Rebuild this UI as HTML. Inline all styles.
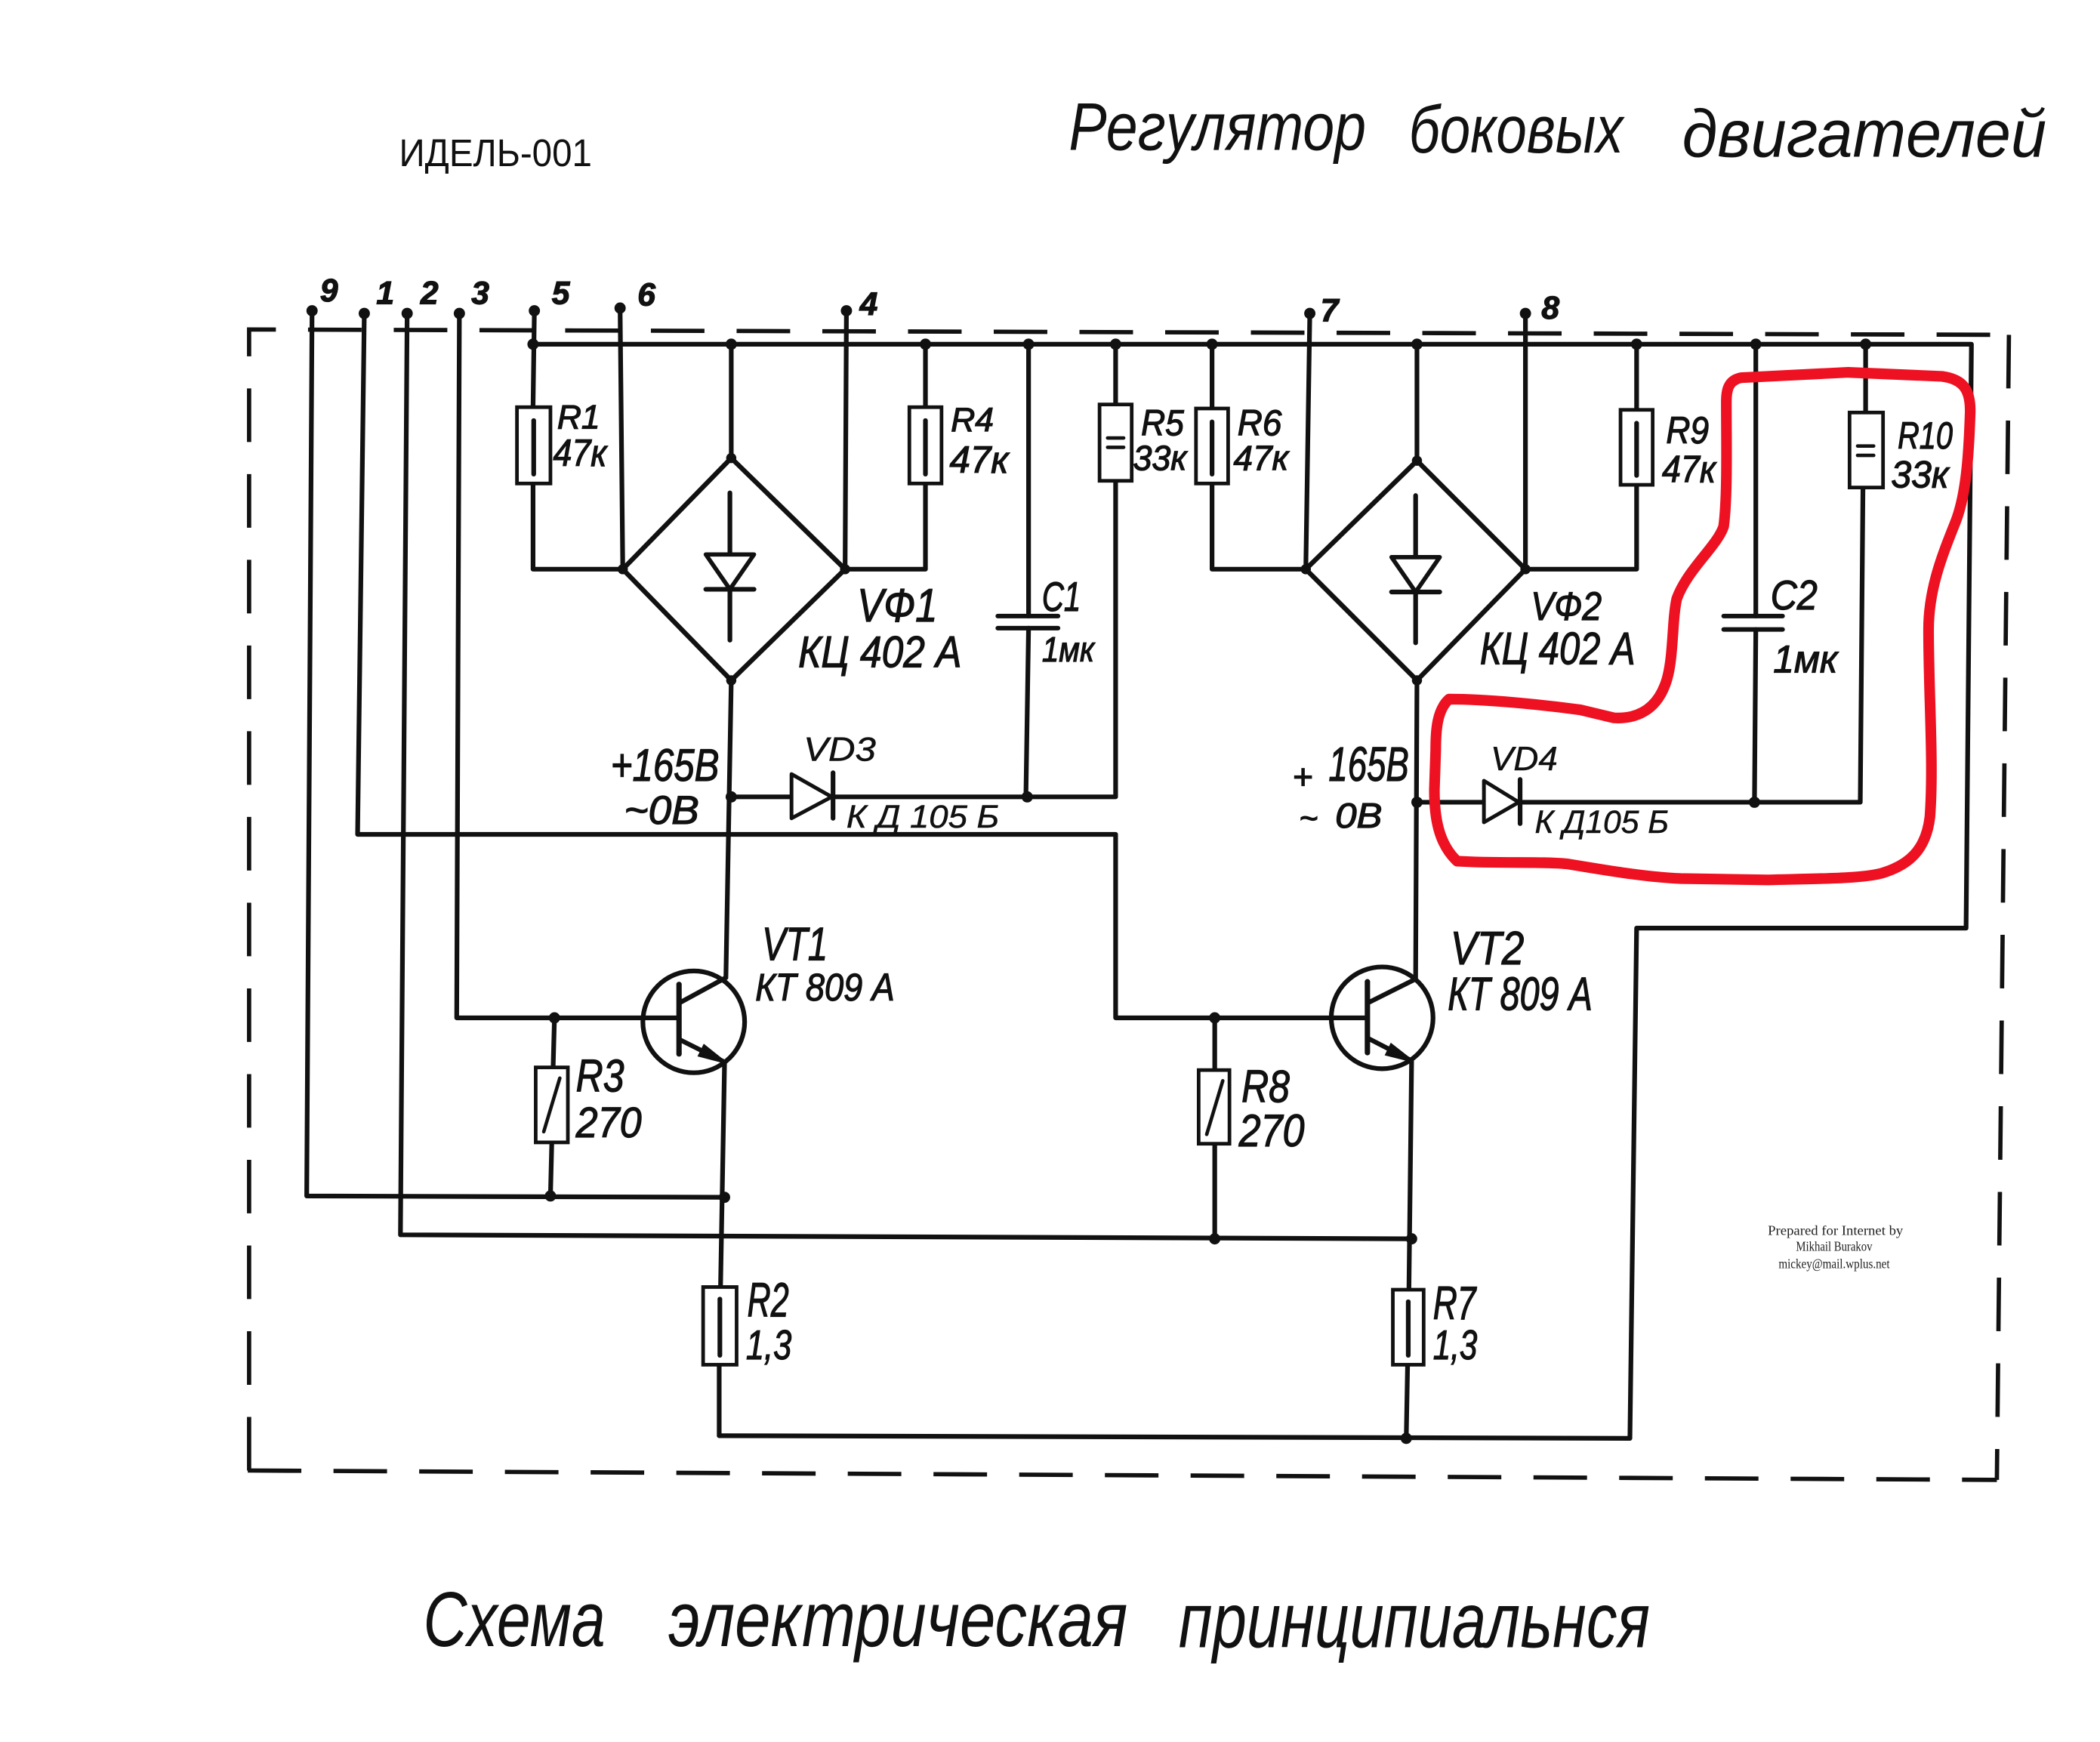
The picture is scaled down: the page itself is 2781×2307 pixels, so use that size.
<!DOCTYPE html>
<html><head><meta charset="utf-8"><style>
html,body{margin:0;padding:0;background:#fff;}
svg{display:block;}
.w{fill:none;stroke:#111;stroke-width:3.5;stroke-linecap:round;stroke-linejoin:round;}
.r{fill:#fff;stroke:#111;stroke-width:2.7;}
.d{fill:none;stroke:#111;stroke-width:3.2;stroke-dasharray:40 24;}
.t{font-family:"Liberation Sans","DejaVu Sans",sans-serif;font-style:italic;fill:#111;}
.l{font-family:"Liberation Sans","DejaVu Sans",sans-serif;font-style:italic;fill:#111;stroke:#111;stroke-width:0.7;}
</style></head><body>
<svg width="2781" height="2307" viewBox="0 0 1568 1300.7" xmlns="http://www.w3.org/2000/svg">
<rect width="1568" height="1301" fill="#fff"/>

<!-- dashed border -->
<path class="d" d="M186,1098 L186,246 L1500,250"/>
<path class="d" d="M1500,250 L1491,1105"/>
<path class="d" d="M185,1098 L1491,1105"/>

<!-- headings -->
<text x="298" y="124" font-family="Liberation Sans, DejaVu Sans, sans-serif" font-size="29" fill="#111" textLength="144" lengthAdjust="spacingAndGlyphs">ИДЕЛЬ-001</text>
<text class="t" x="798" y="112" font-size="50" textLength="222" lengthAdjust="spacingAndGlyphs">Регулятор</text>
<text class="t" x="1052" y="114" font-size="50" textLength="160" lengthAdjust="spacingAndGlyphs">боковых</text>
<text class="t" x="1256" y="117" font-size="50" textLength="272" lengthAdjust="spacingAndGlyphs">двигателей</text>
<text class="t" x="316" y="1229" font-size="58" textLength="136" lengthAdjust="spacingAndGlyphs">Схема</text>
<text class="t" x="499" y="1229" font-size="58" textLength="343" lengthAdjust="spacingAndGlyphs">электрическая</text>
<text class="t" x="880" y="1230" font-size="58" textLength="352" lengthAdjust="spacingAndGlyphs">принципиальнся</text>

<!-- terminal labels -->
<g class="l" font-size="24" font-weight="bold">
<text x="239" y="225">9</text>
<text x="281" y="227">1</text>
<text x="314" y="227">2</text>
<text x="352" y="227">3</text>
<text x="412" y="227">5</text>
<text x="476" y="228">6</text>
<text x="642" y="235">4</text>
<text x="986" y="240">7</text>
<text x="1151" y="238">8</text>
</g>

<!-- wires -->
<path class="w" d="M398,257 L1472,257 L1468,693 L1222,693 L1217,1074 L537,1072"/>
<path class="w" d="M233,232 L229,893 L541,894"/>
<path class="w" d="M272,234 L267,623 L833,623 L833,760 L995,760"/>
<path class="w" d="M304,234 L299,922 L1054,925"/>
<path class="w" d="M343,234 L341,760 L479,760"/>
<path class="w" d="M399,232 L398,304"/>
<path class="w" d="M463,230 L465,425"/>
<path class="w" d="M632,232 L631,425"/>
<path class="w" d="M978,234 L975,425"/>
<path class="w" d="M1139,234 L1139,425"/>

<!-- R1 -->
<path class="w" d="M398,361 L398,425 L465,425"/>
<rect class="r" x="386" y="304" width="25" height="57"/>
<path class="w" d="M398.5,314 L398.5,354"/>
<!-- R4 -->
<path class="w" d="M691,257 L691,304 M691,361 L691,425 L631,425"/>
<rect class="r" x="679" y="304" width="24" height="57"/>
<path class="w" d="M691,314 L691,354"/>

<!-- bridge 1 -->
<path class="w" d="M546,257 L546,342 M546,508 L542,730 L507,749"/>
<polygon class="w" points="546,342 631,425 546,508 465,425" style="stroke-width:3.6"/>
<path class="w" d="M545,368 L545,478 M527,440 L563,440"/>
<polygon points="527,414 563,414 545,440" fill="#fff" stroke="#111" stroke-width="3.2" stroke-linejoin="round"/>

<!-- C1 -->
<path class="w" d="M768,257 L768,460 M768,469 L766,595"/>
<path class="w" d="M745,460 L790,460 M745,469 L790,469" style="stroke-width:3.4"/>

<!-- VD3 line and R5 -->
<path class="w" d="M546,595 L833,595 M833,257 L833,302 M833,359 L833,595"/>
<rect class="r" x="821" y="302" width="24" height="57"/>
<path class="w" d="M827,327 L839,327 M827,334 L839,334" style="stroke-width:2.6"/>
<polygon points="591,578 591,611 621,595" fill="#fff" stroke="#111" stroke-width="2.8" stroke-linejoin="round"/>
<path class="w" d="M622,577 L622,611"/>

<!-- R6 -->
<path class="w" d="M905,257 L905,305 M905,361 L905,425 L975,425"/>
<rect class="r" x="893" y="305" width="24" height="56"/>
<path class="w" d="M905,315 L905,354"/>

<!-- bridge 2 -->
<path class="w" d="M1058,257 L1058,344 M1058,508 L1057,731 L1021,749"/>
<polygon class="w" points="1058,344 1139,425 1058,508 975,425" style="stroke-width:3.6"/>
<path class="w" d="M1057,370 L1057,480 M1039,442 L1075,442"/>
<polygon points="1039,416 1075,416 1057,442" fill="#fff" stroke="#111" stroke-width="3.2" stroke-linejoin="round"/>

<!-- R9 -->
<path class="w" d="M1222,257 L1222,306 M1222,362 L1222,425 L1139,425"/>
<rect class="r" x="1210" y="306" width="24" height="56"/>
<path class="w" d="M1222,316 L1222,355"/>

<!-- C2 -->
<path class="w" d="M1311,257 L1311,460 M1311,470 L1310,600"/>
<path class="w" d="M1287,460 L1331,460 M1287,470 L1331,470" style="stroke-width:3.4"/>

<!-- R10 -->
<path class="w" d="M1393,257 L1393,308 M1391,364 L1389,599 L1058,599"/>
<rect class="r" x="1381" y="308" width="25" height="56"/>
<path class="w" d="M1387,333 L1399,333 M1387,340 L1399,340" style="stroke-width:2.6"/>

<!-- VD4 -->
<polygon points="1108,583 1108,614 1134,599" fill="#fff" stroke="#111" stroke-width="2.8" stroke-linejoin="round"/>
<path class="w" d="M1135,582 L1135,615"/>

<!-- VT1 -->
<circle cx="518" cy="763" r="38" fill="none" stroke="#111" stroke-width="3.5"/>
<path class="w" d="M479,760 L507,760" />
<path class="w" d="M507,735 L507,787" style="stroke-width:4"/>
<path class="w" d="M507,776 L541,793 L538,961 M537,1019 L537,1072"/>
<polygon points="541,793 522.2,788.1 525.8,780.9" fill="#111" stroke="#111" stroke-width="2"/>
<!-- R2 -->
<rect class="r" x="525" y="961" width="25" height="58"/>
<path class="w" d="M537.5,970 L537.5,1012"/>
<!-- R3 -->
<path class="w" d="M414,760 L413,797 M412,853 L411,893"/>
<rect class="r" x="400" y="797" width="24" height="56"/>
<path class="w" d="M406,845 L418,805" style="stroke-width:2.6"/>

<!-- VT2 -->
<circle cx="1032" cy="760" r="38" fill="none" stroke="#111" stroke-width="3.5"/>
<path class="w" d="M995,760 L1021,760"/>
<path class="w" d="M1021,733 L1021,786" style="stroke-width:4"/>
<path class="w" d="M1021,775 L1054,792 L1052,963 M1051,1019 L1050,1074"/>
<polygon points="1054,792 1035.3,787.3 1038.8,780.1" fill="#111" stroke="#111" stroke-width="2"/>
<!-- R7 -->
<rect class="r" x="1040" y="963" width="23" height="56"/>
<path class="w" d="M1051.5,972 L1051.5,1012"/>
<!-- R8 -->
<path class="w" d="M907,760 L907,799 M907,854 L907,925"/>
<rect class="r" x="895" y="799" width="23" height="55"/>
<path class="w" d="M901,847 L913,807" style="stroke-width:2.6"/>

<!-- junction dots -->
<g fill="#111">
<circle cx="398" cy="257" r="4.2"/><circle cx="546" cy="257" r="4.2"/><circle cx="691" cy="257" r="4.2"/>
<circle cx="768" cy="257" r="4.2"/><circle cx="833" cy="257" r="4.2"/><circle cx="905" cy="257" r="4.2"/>
<circle cx="1058" cy="257" r="4.2"/><circle cx="1222" cy="257" r="4.2"/><circle cx="1311" cy="257" r="4.2"/>
<circle cx="1393" cy="257" r="4.2"/>
<circle cx="233" cy="232" r="4.2"/><circle cx="272" cy="234" r="4.2"/><circle cx="304" cy="234" r="4.2"/>
<circle cx="343" cy="234" r="4.2"/><circle cx="399" cy="232" r="4.2"/><circle cx="463" cy="230" r="4.2"/>
<circle cx="632" cy="232" r="4.2"/><circle cx="978" cy="234" r="4.2"/><circle cx="1139" cy="234" r="4.2"/>
<circle cx="546" cy="342" r="3.8"/><circle cx="465" cy="425" r="3.8"/><circle cx="631" cy="425" r="3.8"/>
<circle cx="546" cy="508" r="3.8"/><circle cx="1058" cy="344" r="3.8"/><circle cx="975" cy="425" r="3.8"/>
<circle cx="1139" cy="425" r="3.8"/><circle cx="1058" cy="508" r="3.8"/>
<circle cx="546" cy="595" r="4.2"/><circle cx="767" cy="595" r="4.2"/>
<circle cx="1058" cy="599" r="4.2"/><circle cx="1310" cy="599" r="4.2"/>
<circle cx="414" cy="760" r="4.2"/><circle cx="907" cy="760" r="4.2"/>
<circle cx="541" cy="894" r="4.2"/><circle cx="411" cy="893" r="4.2"/>
<circle cx="907" cy="925" r="4.2"/><circle cx="1054" cy="925" r="4.2"/>
<circle cx="1050" cy="1074" r="4.2"/>
</g>

<!-- component labels -->
<g class="l">
<text x="416" y="320" font-size="25" textLength="32" lengthAdjust="spacingAndGlyphs">R1</text>
<text x="413" y="348" font-size="28" textLength="40" lengthAdjust="spacingAndGlyphs">47к</text>
<text x="710" y="322" font-size="25" textLength="32" lengthAdjust="spacingAndGlyphs">R4</text>
<text x="709" y="353" font-size="28" textLength="44" lengthAdjust="spacingAndGlyphs">47к</text>
<text x="852" y="325" font-size="27" textLength="32" lengthAdjust="spacingAndGlyphs">R5</text>
<text x="846" y="351" font-size="26" textLength="40" lengthAdjust="spacingAndGlyphs">33к</text>
<text x="924" y="325" font-size="27" textLength="33" lengthAdjust="spacingAndGlyphs">R6</text>
<text x="921" y="351" font-size="26" textLength="41" lengthAdjust="spacingAndGlyphs">47к</text>
<text x="1244" y="331" font-size="28" textLength="32" lengthAdjust="spacingAndGlyphs">R9</text>
<text x="1241" y="360" font-size="28" textLength="40" lengthAdjust="spacingAndGlyphs">47к</text>
<text x="1417" y="335" font-size="28" textLength="41" lengthAdjust="spacingAndGlyphs">R10</text>
<text x="1412" y="364" font-size="28" textLength="43" lengthAdjust="spacingAndGlyphs">33к</text>
<text x="778" y="456" font-size="31" textLength="29" lengthAdjust="spacingAndGlyphs">C1</text>
<text x="778" y="494" font-size="26" textLength="39" lengthAdjust="spacingAndGlyphs">1мк</text>
<text x="1322" y="455" font-size="31" textLength="35" lengthAdjust="spacingAndGlyphs">C2</text>
<text x="1324" y="502" font-size="29" textLength="48" lengthAdjust="spacingAndGlyphs">1мк</text>
<text x="640" y="464" font-size="35" textLength="60" lengthAdjust="spacingAndGlyphs">VФ1</text>
<text x="596" y="498" font-size="33" textLength="122" lengthAdjust="spacingAndGlyphs">КЦ 402 А</text>
<text x="1143" y="463" font-size="30" textLength="53" lengthAdjust="spacingAndGlyphs">VФ2</text>
<text x="1105" y="496" font-size="34" textLength="116" lengthAdjust="spacingAndGlyphs">КЦ 402 А</text>
<text x="600" y="568" font-size="25" textLength="54" lengthAdjust="spacingAndGlyphs" style="stroke-width:0.3">VD3</text>
<text x="632" y="618" font-size="24" textLength="114" lengthAdjust="spacingAndGlyphs" style="stroke-width:0.3">К Д 105 Б</text>
<text x="456" y="583" font-size="34" textLength="81" lengthAdjust="spacingAndGlyphs">+165В</text>
<text x="466" y="615" font-size="30" textLength="56" lengthAdjust="spacingAndGlyphs">~0В</text>
<text x="1113" y="575" font-size="25" textLength="50" lengthAdjust="spacingAndGlyphs" style="stroke-width:0.3">VD4</text>
<text x="1146" y="622" font-size="24" textLength="100" lengthAdjust="spacingAndGlyphs" style="stroke-width:0.3">К Д105 Б</text>
<text x="965" y="589" font-size="26">+</text>
<text x="992" y="583" font-size="36" textLength="60" lengthAdjust="spacingAndGlyphs">165В</text>
<text x="970" y="619" font-size="24">~</text>
<text x="997" y="618" font-size="26" textLength="35" lengthAdjust="spacingAndGlyphs">0В</text>
<text x="569" y="717" font-size="35" textLength="49" lengthAdjust="spacingAndGlyphs">VT1</text>
<text x="564" y="747" font-size="29" textLength="104" lengthAdjust="spacingAndGlyphs">КТ 809 А</text>
<text x="1083" y="720" font-size="35" textLength="55" lengthAdjust="spacingAndGlyphs">VT2</text>
<text x="1081" y="754" font-size="35" textLength="108" lengthAdjust="spacingAndGlyphs">КТ 809 А</text>
<text x="430" y="815" font-size="34" textLength="36" lengthAdjust="spacingAndGlyphs">R3</text>
<text x="430" y="849" font-size="32" textLength="49" lengthAdjust="spacingAndGlyphs">270</text>
<text x="927" y="823" font-size="34" textLength="36" lengthAdjust="spacingAndGlyphs">R8</text>
<text x="925" y="856" font-size="34" textLength="49" lengthAdjust="spacingAndGlyphs">270</text>
<text x="558" y="983" font-size="36" textLength="31" lengthAdjust="spacingAndGlyphs">R2</text>
<text x="557" y="1015" font-size="31" textLength="34" lengthAdjust="spacingAndGlyphs">1,3</text>
<text x="1070" y="985" font-size="35" textLength="32" lengthAdjust="spacingAndGlyphs">R7</text>
<text x="1070" y="1015" font-size="31" textLength="33" lengthAdjust="spacingAndGlyphs">1,3</text>
</g>

<!-- credits -->
<g font-family="Liberation Serif, DejaVu Serif, serif" font-size="10" fill="#222">
<text x="1320" y="922" textLength="101" lengthAdjust="spacingAndGlyphs">Prepared for Internet by</text>
<text x="1341" y="934" textLength="57" lengthAdjust="spacingAndGlyphs">Mikhail Burakov</text>
<text x="1328" y="947" textLength="83" lengthAdjust="spacingAndGlyphs">mickey@mail.wplus.net</text>
</g>

<!-- red highlight -->
<path d="M1289,300 C1289,330 1290,370 1287,393 C1282,408 1260,425 1252,447 C1248,465 1250,495 1243,512 C1236,530 1222,537 1205,536 L1180,530 C1150,526 1110,522 1082,522 C1073,530 1072,545 1072,560 L1071,590 C1071,610 1074,630 1088,643 C1120,645 1150,643 1170,645 C1200,650 1230,655 1255,656 L1320,657 C1360,656 1390,656 1405,652 C1425,646 1438,635 1441,610 C1444,570 1440,520 1440,470 C1440,440 1450,415 1460,390 C1468,370 1470,340 1471,310 C1472,290 1465,283 1450,281 L1380,278 L1300,282 C1290,284 1289,292 1289,300 Z" fill="none" stroke="#ee1122" stroke-width="8" stroke-linejoin="round"/>
</svg>
</body></html>
